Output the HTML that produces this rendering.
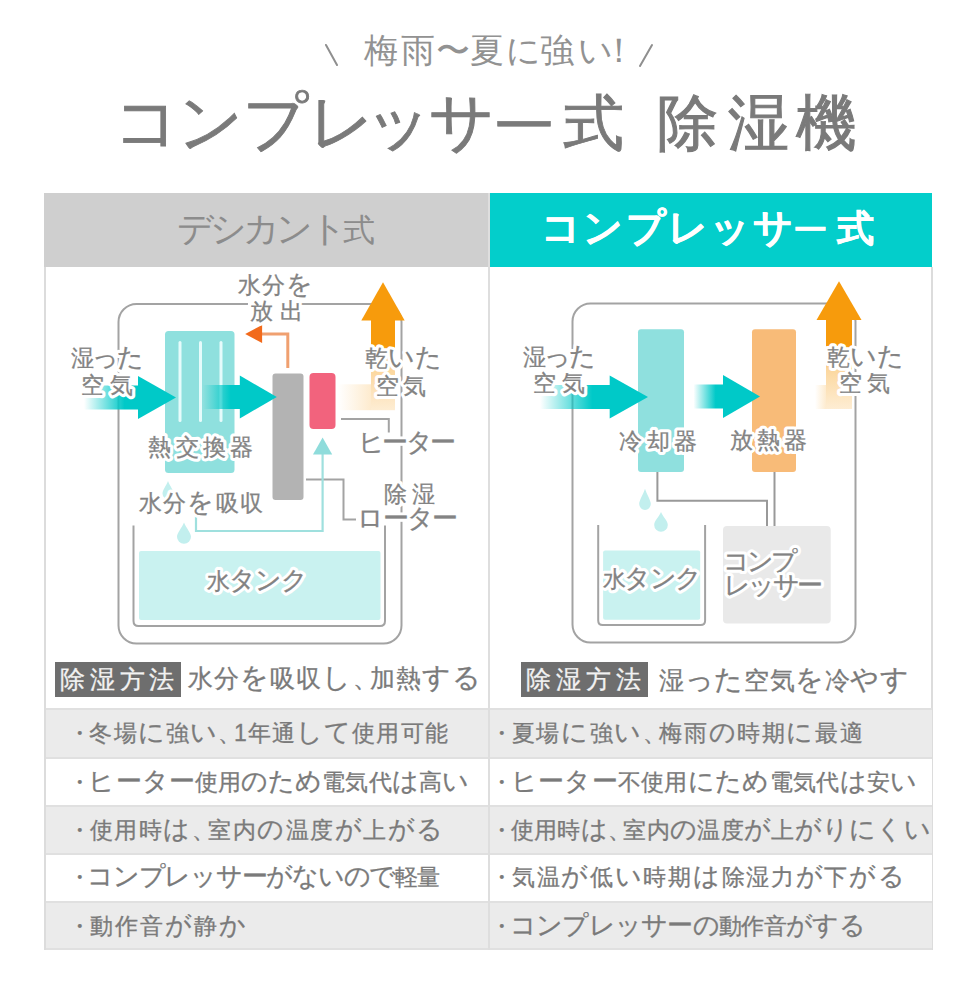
<!DOCTYPE html>
<html lang="ja"><head><meta charset="utf-8"><title>コンプレッサー式 除湿機</title>
<style>
html,body{margin:0;padding:0;background:#fff}
body{width:973px;height:992px;position:relative;overflow:hidden;font-family:"Liberation Sans",sans-serif}
.a{position:absolute;white-space:nowrap}
.bg{position:absolute}
svg{position:absolute;left:0;top:0}
svg text{font-family:"Liberation Sans",sans-serif}
</style></head><body>
<div class="a" style="left:364.4px;top:32.9px;font-size:34px;line-height:34px;color:#929292;font-weight:normal;">梅<span style="margin-left:3.0px;">雨</span><span style="margin-left:0.4px;">〜</span><span style="margin-left:0.6px;">夏</span><span style="margin-left:1.6px;">に</span><span style="margin-left:-0.7px;">強</span><span style="margin-left:4.1px;">い</span><span style="margin-left:-11.0px;">！</span></div>
<svg width="973" height="100" style="z-index:1"><path d="M326 45 L337 65 M652 45 L640 66" stroke="#8f8f8f" stroke-width="2" stroke-linecap="round" fill="none"/></svg>
<div class="a" style="left:114.4px;top:92.6px;font-size:61px;line-height:61px;color:#7a7a7a;font-weight:normal;-webkit-text-stroke:0.9px #7a7a7a;"><span style="font-size:64px;line-height:0;">コ</span><span style="margin-left:-2.5px;font-size:64px;line-height:0;">ン</span><span style="margin-left:-0.9px;font-size:64px;line-height:0;">プ</span><span style="margin-left:0.2px;font-size:64px;line-height:0;">レ</span><span style="margin-left:-9.5px;font-size:64px;line-height:0;">ッ</span><span style="margin-left:-3.1px;font-size:64px;line-height:0;">サ</span><span style="margin-left:-2.6px;font-size:64px;line-height:0;display:inline-block;transform:translateY(3.3px) scaleY(0.75);">ー</span><span style="margin-left:6.8px;">式</span></div>
<div class="a" style="left:656.8px;top:92.6px;font-size:61px;line-height:61px;color:#7a7a7a;font-weight:normal;-webkit-text-stroke:1.1px #7a7a7a;">除<span style="margin-left:10.0px;">湿</span><span style="margin-left:7.0px;">機</span></div>
<div class="bg" style="left:44px;top:193px;width:444px;height:74px;background:#cfcfcf"></div>
<div class="bg" style="left:489px;top:193px;width:443px;height:74px;background:#03cecb"></div>
<div class="bg" style="left:44px;top:267px;width:1.5px;height:683px;background:#dcdcdc"></div>
<div class="bg" style="left:931px;top:267px;width:1.5px;height:683px;background:#dcdcdc"></div>
<div class="bg" style="left:488px;top:193px;width:1.5px;height:757px;background:#dedede"></div>
<div class="bg" style="left:45.5px;top:708px;width:886px;height:49px;background:#ebebeb;border-top:2px solid #e0e0e0;box-sizing:border-box"></div>
<div class="bg" style="left:45.5px;top:757px;width:886px;height:48px;background:#ffffff;border-top:2px solid #e0e0e0;box-sizing:border-box"></div>
<div class="bg" style="left:45.5px;top:805px;width:886px;height:48px;background:#ebebeb;border-top:2px solid #e0e0e0;box-sizing:border-box"></div>
<div class="bg" style="left:45.5px;top:853px;width:886px;height:48px;background:#ffffff;border-top:2px solid #e0e0e0;box-sizing:border-box"></div>
<div class="bg" style="left:45.5px;top:901px;width:886px;height:49px;background:#ebebeb;border-top:2px solid #e0e0e0;box-sizing:border-box"></div>
<div class="bg" style="left:45.5px;top:948px;width:886px;height:2px;background:#e0e0e0"></div>
<div class="bg" style="left:488px;top:267px;width:1.5px;height:683px;background:#dedede"></div>
<div class="a" style="left:176.5px;top:214.4px;font-size:32.0px;line-height:32.0px;letter-spacing:-3.75px;color:#8c8c8c;font-weight:normal;"><span style="font-size:36.0px;line-height:0">デシカント</span>式</div>
<div class="a" style="left:540.7px;top:210.3px;font-size:37.0px;line-height:37.0px;letter-spacing:2.43px;color:#ffffff;font-weight:bold;-webkit-text-stroke:0.5px #fff;"><span style="font-size:39.0px;line-height:0">コンプレッサ</span><span style="display:inline-block;transform:translate(-4px,2.0px) scale(0.9,0.7);font-size:39.0px;line-height:0;">ー</span>式</div>
<svg width="973" height="992" viewBox="0 0 973 992">
<rect x="118.5" y="304" width="283" height="339.5" rx="18" fill="none" stroke="#a3a3a3" stroke-width="2"/>
<rect x="139" y="551" width="241.5" height="69" rx="2" fill="#c9f2f0"/>
<path d="M133.5,525.5 V621 Q133.5,626 138.5,626 H380 Q385,626 385,621 V525.5" fill="none" stroke="#a3a3a3" stroke-width="2"/>
<rect x="165" y="331" width="69.5" height="142" rx="3.5" fill="#8fe0de"/>
<rect x="178.5" y="341" width="3" height="81" rx="1.5" fill="#e6fbfb"/>
<rect x="199.0" y="341" width="3" height="81" rx="1.5" fill="#e6fbfb"/>
<rect x="219.5" y="341" width="3" height="81" rx="1.5" fill="#e6fbfb"/>
<rect x="272.5" y="373.5" width="31" height="126.5" rx="3" fill="#b3b3b3"/>
<rect x="309.5" y="373" width="26" height="56" rx="4" fill="#f2637d"/>
<path d="M306,479.5 H343.5 V519.5 H356" fill="none" stroke="#a3a3a3" stroke-width="2"/>
<path d="M341,419 H388.8 V432.5" fill="none" stroke="#a3a3a3" stroke-width="2"/>
<path d="M196,516 V531 H322.6 V452" fill="none" stroke="#9fe0de" stroke-width="2.2"/>
<path d="M322.6,437.5 L332.2,454.6 L313,454.6Z" fill="#8fdcdb"/>
<path d="M168.0,481.0 C169.7,485.5 173.5,490.2 173.5,493.5 A5.5,5.5 0 0 1 162.5,493.5 C162.5,490.2 166.3,485.5 168.0,481.0Z" fill="#c2efee"/>
<path d="M184.0,522.4 C186.1,527.8 191.0,532.6 191.0,536.8 A7.0,7.0 0 0 1 177.0,536.8 C177.0,532.6 181.9,527.8 184.0,522.4Z" fill="#c2efee"/>
<path d="M287.8,368 V334 H262" fill="none" stroke="#f0a070" stroke-width="3"/>
<path d="M245.2,334 L262.1,325 L262.1,343Z" fill="#f26a1b"/>
<linearGradient id="ta1" gradientUnits="userSpaceOnUse" x1="84" y1="0" x2="138" y2="0"><stop offset="0" stop-color="#00c9c8" stop-opacity="0"/><stop offset="0.75" stop-color="#00c9c8" stop-opacity="1"/></linearGradient><rect x="84" y="385.5" width="55" height="24" fill="url(#ta1)"/><path d="M138,376.0 L176,397.5 L138,419.0Z" fill="#00c9c8"/>
<linearGradient id="ta2" gradientUnits="userSpaceOnUse" x1="203" y1="0" x2="239.8" y2="0"><stop offset="0" stop-color="#00c9c8" stop-opacity="0"/><stop offset="0.75" stop-color="#00c9c8" stop-opacity="1"/></linearGradient><rect x="203" y="385" width="37.80000000000001" height="24" fill="url(#ta2)"/><path d="M239.8,375.5 L276.8,397 L239.8,418.5Z" fill="#00c9c8"/>
<linearGradient id="oa1v" gradientUnits="userSpaceOnUse" x1="0" y1="320.4" x2="0" y2="410.2"><stop offset="0" stop-color="#f79b0c" stop-opacity="1"/><stop offset="0.28" stop-color="#f79b0c" stop-opacity="1"/><stop offset="0.55" stop-color="#f79b0c" stop-opacity="0.4"/><stop offset="1" stop-color="#f79b0c" stop-opacity="0.18"/></linearGradient><linearGradient id="oa1h" gradientUnits="userSpaceOnUse" x1="338" y1="0" x2="371.0" y2="0"><stop offset="0" stop-color="#f79b0c" stop-opacity="0"/><stop offset="1" stop-color="#f79b0c" stop-opacity="0.2"/></linearGradient><rect x="338" y="384.3" width="33.0" height="25.899999999999977" fill="url(#oa1h)"/><rect x="371.0" y="319.9" width="24" height="90.30000000000001" fill="url(#oa1v)"/><path d="M383,282.3 L404.7,320.4 L361.3,320.4Z" fill="#f79b0c"/>
<rect x="572.5" y="303.5" width="283" height="339" rx="18" fill="none" stroke="#a3a3a3" stroke-width="2"/>
<rect x="603.1" y="550.5" width="97.1" height="69.3" rx="2" fill="#c9f2f0"/>
<path d="M598.2,525 V620.5 Q598.2,625 602.7,625 H700.6 Q705.1,625 705.1,620.5 V525" fill="none" stroke="#a3a3a3" stroke-width="2"/>
<rect x="723" y="526" width="107.7" height="97.4" rx="4" fill="#e9e9e9"/>
<rect x="638" y="329.3" width="46" height="142.7" rx="3" fill="#8fe0de"/>
<rect x="752" y="329.3" width="44" height="142.7" rx="3" fill="#f8bb78"/>
<path d="M657.4,472 V500.8 H767 V526" fill="none" stroke="#999" stroke-width="2"/>
<path d="M774.5,472 V526" fill="none" stroke="#999" stroke-width="2"/>
<path d="M645.0,488.8 C646.7,494.1 650.8,500.6 650.8,504.1 A5.8,5.8 0 0 1 639.2,504.1 C639.2,500.6 643.3,494.1 645.0,488.8Z" fill="#c2efee"/>
<path d="M661.0,512.0 C663.0,516.9 667.8,520.8 667.8,524.9 A6.8,6.8 0 0 1 654.2,524.9 C654.2,520.8 659.0,516.9 661.0,512.0Z" fill="#c2efee"/>
<linearGradient id="ta3" gradientUnits="userSpaceOnUse" x1="540" y1="0" x2="609.7" y2="0"><stop offset="0" stop-color="#00c9c8" stop-opacity="0"/><stop offset="0.75" stop-color="#00c9c8" stop-opacity="1"/></linearGradient><rect x="540" y="385" width="70.70000000000005" height="24" fill="url(#ta3)"/><path d="M609.7,375.5 L648,397 L609.7,418.5Z" fill="#00c9c8"/>
<linearGradient id="ta4" gradientUnits="userSpaceOnUse" x1="693.5" y1="0" x2="723" y2="0"><stop offset="0" stop-color="#00c9c8" stop-opacity="0"/><stop offset="0.75" stop-color="#00c9c8" stop-opacity="1"/></linearGradient><rect x="693.5" y="384.5" width="30.5" height="24" fill="url(#ta4)"/><path d="M723,375.0 L760,396.5 L723,418.0Z" fill="#00c9c8"/>
<linearGradient id="oa2v" gradientUnits="userSpaceOnUse" x1="0" y1="320" x2="0" y2="409"><stop offset="0" stop-color="#f79b0c" stop-opacity="1"/><stop offset="0.28" stop-color="#f79b0c" stop-opacity="1"/><stop offset="0.55" stop-color="#f79b0c" stop-opacity="0.4"/><stop offset="1" stop-color="#f79b0c" stop-opacity="0.18"/></linearGradient><linearGradient id="oa2h" gradientUnits="userSpaceOnUse" x1="815" y1="0" x2="826.0" y2="0"><stop offset="0" stop-color="#f79b0c" stop-opacity="0"/><stop offset="1" stop-color="#f79b0c" stop-opacity="0.2"/></linearGradient><rect x="815" y="385" width="11.0" height="24" fill="url(#oa2h)"/><rect x="826.0" y="319.5" width="26" height="89.5" fill="url(#oa2v)"/><path d="M839,281.3 L861.5,320 L816.5,320Z" fill="#f79b0c"/>
<rect x="248" y="301.5" width="52" height="5" fill="#fff"/>
<text x="238.3" y="293.3" font-size="23.0" letter-spacing="1.06" font-weight="normal" fill="#fff" stroke="#fff" stroke-width="6.5" stroke-linejoin="round">水分<tspan font-size="26.0">を</tspan></text><text x="238.3" y="293.3" font-size="23.0" letter-spacing="1.06" font-weight="normal" fill="#838383" stroke="#838383" stroke-width="0.3">水分<tspan font-size="26.0">を</tspan></text>
<text x="250.2" y="318.7" font-size="23.0" letter-spacing="6.38" font-weight="normal" fill="#fff" stroke="#fff" stroke-width="6.5" stroke-linejoin="round">放出</text><text x="250.2" y="318.7" font-size="23.0" letter-spacing="6.38" font-weight="normal" fill="#838383" stroke="#838383" stroke-width="0.3">放出</text>
<text x="70.7" y="365.7" font-size="23.0" letter-spacing="-2.06" font-weight="normal" fill="#fff" stroke="#fff" stroke-width="6.5" stroke-linejoin="round">湿<tspan font-size="26.0">った</tspan></text><text x="70.7" y="365.7" font-size="23.0" letter-spacing="-2.06" font-weight="normal" fill="#838383" stroke="#838383" stroke-width="0.3">湿<tspan font-size="26.0">った</tspan></text>
<text x="80.7" y="392.7" font-size="23.0" letter-spacing="6.40" font-weight="normal" fill="#fff" stroke="#fff" stroke-width="6.5" stroke-linejoin="round">空気</text><text x="80.7" y="392.7" font-size="23.0" letter-spacing="6.40" font-weight="normal" fill="#838383" stroke="#838383" stroke-width="0.3">空気</text>
<text x="364.9" y="366.3" font-size="23.0" letter-spacing="0.00" font-weight="normal" fill="#fff" stroke="#fff" stroke-width="6.5" stroke-linejoin="round">乾<tspan font-size="26.0">いた</tspan></text><text x="364.9" y="366.3" font-size="23.0" letter-spacing="0.00" font-weight="normal" fill="#838383" stroke="#838383" stroke-width="0.3">乾<tspan font-size="26.0">いた</tspan></text>
<text x="375.7" y="393.6" font-size="23.0" letter-spacing="4.10" font-weight="normal" fill="#fff" stroke="#fff" stroke-width="6.5" stroke-linejoin="round">空気</text><text x="375.7" y="393.6" font-size="23.0" letter-spacing="4.10" font-weight="normal" fill="#838383" stroke="#838383" stroke-width="0.3">空気</text>
<text x="148.2" y="455.2" font-size="23.0" letter-spacing="4.41" font-weight="normal" fill="#fff" stroke="#fff" stroke-width="6.5" stroke-linejoin="round">熱交換器</text><text x="148.2" y="455.2" font-size="23.0" letter-spacing="4.41" font-weight="normal" fill="#838383" stroke="#838383" stroke-width="0.3">熱交換器</text>
<text x="357.7" y="451.4" font-size="23.0" letter-spacing="-2.52" font-weight="normal" fill="#fff" stroke="#fff" stroke-width="6.5" stroke-linejoin="round"><tspan font-size="26.0">ヒーター</tspan></text><text x="357.7" y="451.4" font-size="23.0" letter-spacing="-2.52" font-weight="normal" fill="#838383" stroke="#838383" stroke-width="0.3"><tspan font-size="26.0">ヒーター</tspan></text>
<text x="138.8" y="510.8" font-size="23.0" letter-spacing="1.25" font-weight="normal" fill="#fff" stroke="#fff" stroke-width="6.5" stroke-linejoin="round">水分<tspan font-size="26.0">を</tspan>吸収</text><text x="138.8" y="510.8" font-size="23.0" letter-spacing="1.25" font-weight="normal" fill="#838383" stroke="#838383" stroke-width="0.3">水分<tspan font-size="26.0">を</tspan>吸収</text>
<text x="383.5" y="501.9" font-size="23.0" letter-spacing="5.52" font-weight="normal" fill="#fff" stroke="#fff" stroke-width="6.5" stroke-linejoin="round">除湿</text><text x="383.5" y="501.9" font-size="23.0" letter-spacing="5.52" font-weight="normal" fill="#838383" stroke="#838383" stroke-width="0.3">除湿</text>
<text x="357.1" y="526.9" font-size="23.0" letter-spacing="-1.58" font-weight="normal" fill="#fff" stroke="#fff" stroke-width="6.5" stroke-linejoin="round"><tspan font-size="26.0">ローター</tspan></text><text x="357.1" y="526.9" font-size="23.0" letter-spacing="-1.58" font-weight="normal" fill="#838383" stroke="#838383" stroke-width="0.3"><tspan font-size="26.0">ローター</tspan></text>
<text x="207.2" y="589.0" font-size="23.0" letter-spacing="-0.93" font-weight="normal" fill="#fff" stroke="#fff" stroke-width="6.5" stroke-linejoin="round">水<tspan font-size="26.0">タンク</tspan></text><text x="207.2" y="589.0" font-size="23.0" letter-spacing="-0.93" font-weight="normal" fill="#838383" stroke="#838383" stroke-width="0.3">水<tspan font-size="26.0">タンク</tspan></text>
<text x="523.4" y="364.9" font-size="23.0" letter-spacing="-2.01" font-weight="normal" fill="#fff" stroke="#fff" stroke-width="6.5" stroke-linejoin="round">湿<tspan font-size="26.0">った</tspan></text><text x="523.4" y="364.9" font-size="23.0" letter-spacing="-2.01" font-weight="normal" fill="#838383" stroke="#838383" stroke-width="0.3">湿<tspan font-size="26.0">った</tspan></text>
<text x="532.7" y="391.2" font-size="23.0" letter-spacing="6.10" font-weight="normal" fill="#fff" stroke="#fff" stroke-width="6.5" stroke-linejoin="round">空気</text><text x="532.7" y="391.2" font-size="23.0" letter-spacing="6.10" font-weight="normal" fill="#838383" stroke="#838383" stroke-width="0.3">空気</text>
<text x="827.1" y="365.3" font-size="23.0" letter-spacing="-0.25" font-weight="normal" fill="#fff" stroke="#fff" stroke-width="6.5" stroke-linejoin="round">乾<tspan font-size="26.0">いた</tspan></text><text x="827.1" y="365.3" font-size="23.0" letter-spacing="-0.25" font-weight="normal" fill="#838383" stroke="#838383" stroke-width="0.3">乾<tspan font-size="26.0">いた</tspan></text>
<text x="838.7" y="391.2" font-size="23.0" letter-spacing="5.40" font-weight="normal" fill="#fff" stroke="#fff" stroke-width="6.5" stroke-linejoin="round">空気</text><text x="838.7" y="391.2" font-size="23.0" letter-spacing="5.40" font-weight="normal" fill="#838383" stroke="#838383" stroke-width="0.3">空気</text>
<text x="619.3" y="448.5" font-size="23.0" letter-spacing="4.29" font-weight="normal" fill="#fff" stroke="#fff" stroke-width="6.5" stroke-linejoin="round">冷却器</text><text x="619.3" y="448.5" font-size="23.0" letter-spacing="4.29" font-weight="normal" fill="#838383" stroke="#838383" stroke-width="0.3">冷却器</text>
<text x="729.9" y="448.1" font-size="23.0" letter-spacing="4.13" font-weight="normal" fill="#fff" stroke="#fff" stroke-width="6.5" stroke-linejoin="round">放熱器</text><text x="729.9" y="448.1" font-size="23.0" letter-spacing="4.13" font-weight="normal" fill="#838383" stroke="#838383" stroke-width="0.3">放熱器</text>
<text x="602.9" y="587.0" font-size="23.0" letter-spacing="-1.69" font-weight="normal" fill="#fff" stroke="#fff" stroke-width="6.5" stroke-linejoin="round">水<tspan font-size="26.0">タンク</tspan></text><text x="602.9" y="587.0" font-size="23.0" letter-spacing="-1.69" font-weight="normal" fill="#838383" stroke="#838383" stroke-width="0.3">水<tspan font-size="26.0">タンク</tspan></text>
<text x="722.6" y="569.6" font-size="23.0" letter-spacing="-2.93" font-weight="normal" fill="#fff" stroke="#fff" stroke-width="6.5" stroke-linejoin="round"><tspan font-size="26.0">コンプ</tspan></text><text x="722.6" y="569.6" font-size="23.0" letter-spacing="-2.93" font-weight="normal" fill="#838383" stroke="#838383" stroke-width="0.3"><tspan font-size="26.0">コンプ</tspan></text>
<text x="724.2" y="593.9" font-size="23.0" letter-spacing="-2.77" font-weight="normal" fill="#fff" stroke="#fff" stroke-width="6.5" stroke-linejoin="round"><tspan font-size="26.0">レッサー</tspan></text><text x="724.2" y="593.9" font-size="23.0" letter-spacing="-2.77" font-weight="normal" fill="#838383" stroke="#838383" stroke-width="0.3"><tspan font-size="26.0">レッサー</tspan></text>
</svg>
<div class="bg" style="left:55px;top:662px;width:126px;height:35px;background:#6e6e6e"></div>
<div class="bg" style="left:521px;top:662px;width:127px;height:35px;background:#6e6e6e"></div>
<div class="a" style="left:60.3px;top:666.7px;font-size:25.0px;line-height:25.0px;letter-spacing:4.62px;color:#f2f2f2;font-weight:normal;-webkit-text-stroke:0.3px #f2f2f2;">除湿方法</div>
<div class="a" style="left:526.2px;top:667.2px;font-size:25.0px;line-height:25.0px;letter-spacing:4.88px;color:#f2f2f2;font-weight:normal;-webkit-text-stroke:0.3px #f2f2f2;">除湿方法</div>
<div class="a" style="left:187.8px;top:665.6px;font-size:25.0px;line-height:25.0px;letter-spacing:1.11px;color:#7a7a7a;font-weight:normal;-webkit-text-stroke:0.3px #7a7a7a;">水分<span style="font-size:28.0px;line-height:0">を</span>吸収<span style="font-size:28.0px;line-height:0">し</span><span style="margin-left:0.0px;margin-right:-8.8px;">、</span>加熱<span style="font-size:28.0px;line-height:0">する</span></div>
<div class="a" style="left:659.4px;top:667.5px;font-size:25.0px;line-height:25.0px;letter-spacing:0.54px;color:#7a7a7a;font-weight:normal;-webkit-text-stroke:0.3px #7a7a7a;">湿<span style="font-size:28.0px;line-height:0">った</span>空気<span style="font-size:28.0px;line-height:0">を</span>冷<span style="font-size:28.0px;line-height:0">やす</span></div>
<div class="a" style="left:74.5px;top:721.8px;font-size:23.0px;line-height:23.0px;letter-spacing:1.10px;color:#7a7a7a;font-weight:normal;-webkit-text-stroke:0.3px #7a7a7a;"><span style="margin-left:-6.9px;margin-right:-2.3px;">・</span>冬場<span style="font-size:26.0px;line-height:0">に</span>強<span style="font-size:26.0px;line-height:0">い</span><span style="margin-left:0.0px;margin-right:-8.0px;">、</span>1年通<span style="font-size:26.0px;line-height:0">して</span>使用可能</div>
<div class="a" style="left:496.5px;top:722.1px;font-size:23.0px;line-height:23.0px;letter-spacing:1.58px;color:#7a7a7a;font-weight:normal;-webkit-text-stroke:0.3px #7a7a7a;"><span style="margin-left:-6.9px;margin-right:-2.3px;">・</span>夏場<span style="font-size:26.0px;line-height:0">に</span>強<span style="font-size:26.0px;line-height:0">い</span><span style="margin-left:0.0px;margin-right:-8.0px;">、</span>梅雨<span style="font-size:26.0px;line-height:0">の</span>時期<span style="font-size:26.0px;line-height:0">に</span>最適</div>
<div class="a" style="left:74.5px;top:770.6px;font-size:23.0px;line-height:23.0px;letter-spacing:0.10px;color:#7a7a7a;font-weight:normal;-webkit-text-stroke:0.3px #7a7a7a;"><span style="margin-left:-6.9px;margin-right:-2.3px;">・</span><span style="font-size:26.0px;line-height:0">ヒーター</span>使用<span style="font-size:26.0px;line-height:0">のため</span>電気代<span style="font-size:26.0px;line-height:0">は</span>高<span style="font-size:26.0px;line-height:0">い</span></div>
<div class="a" style="left:496.5px;top:770.6px;font-size:23.0px;line-height:23.0px;letter-spacing:0.31px;color:#7a7a7a;font-weight:normal;-webkit-text-stroke:0.3px #7a7a7a;"><span style="margin-left:-6.9px;margin-right:-2.3px;">・</span><span style="font-size:26.0px;line-height:0">ヒーター</span>不使用<span style="font-size:26.0px;line-height:0">にため</span>電気代<span style="font-size:26.0px;line-height:0">は</span>安<span style="font-size:26.0px;line-height:0">い</span></div>
<div class="a" style="left:74.5px;top:818.7px;font-size:23.0px;line-height:23.0px;letter-spacing:1.47px;color:#7a7a7a;font-weight:normal;-webkit-text-stroke:0.3px #7a7a7a;"><span style="margin-left:-6.9px;margin-right:-2.3px;">・</span>使用時<span style="font-size:26.0px;line-height:0">は</span><span style="margin-left:0.0px;margin-right:-8.0px;">、</span>室内<span style="font-size:26.0px;line-height:0">の</span>温度<span style="font-size:26.0px;line-height:0">が</span>上<span style="font-size:26.0px;line-height:0">がる</span></div>
<div class="a" style="left:496.5px;top:818.7px;font-size:23.0px;line-height:23.0px;letter-spacing:0.32px;color:#7a7a7a;font-weight:normal;-webkit-text-stroke:0.3px #7a7a7a;"><span style="margin-left:-6.9px;margin-right:-2.3px;">・</span>使用時<span style="font-size:26.0px;line-height:0">は</span><span style="margin-left:0.0px;margin-right:-8.0px;">、</span>室内<span style="font-size:26.0px;line-height:0">の</span>温度<span style="font-size:26.0px;line-height:0">が</span>上<span style="font-size:26.0px;line-height:0">がりにくい</span></div>
<div class="a" style="left:74.5px;top:866.2px;font-size:23.0px;line-height:23.0px;letter-spacing:-1.25px;color:#7a7a7a;font-weight:normal;-webkit-text-stroke:0.3px #7a7a7a;"><span style="margin-left:-6.9px;margin-right:-2.3px;">・</span><span style="font-size:26.0px;line-height:0">コンプレッサーがないので</span>軽量</div>
<div class="a" style="left:496.5px;top:866.4px;font-size:23.0px;line-height:23.0px;letter-spacing:1.68px;color:#7a7a7a;font-weight:normal;-webkit-text-stroke:0.3px #7a7a7a;"><span style="margin-left:-6.9px;margin-right:-2.3px;">・</span>気温<span style="font-size:26.0px;line-height:0">が</span>低<span style="font-size:26.0px;line-height:0">い</span>時期<span style="font-size:26.0px;line-height:0">は</span>除湿力<span style="font-size:26.0px;line-height:0">が</span>下<span style="font-size:26.0px;line-height:0">がる</span></div>
<div class="a" style="left:74.5px;top:915.2px;font-size:23.0px;line-height:23.0px;letter-spacing:1.95px;color:#7a7a7a;font-weight:normal;-webkit-text-stroke:0.3px #7a7a7a;"><span style="margin-left:-6.9px;margin-right:-2.3px;">・</span>動作音<span style="font-size:26.0px;line-height:0">が</span>静<span style="font-size:26.0px;line-height:0">か</span></div>
<div class="a" style="left:496.5px;top:915.2px;font-size:23.0px;line-height:23.0px;letter-spacing:-0.70px;color:#7a7a7a;font-weight:normal;-webkit-text-stroke:0.3px #7a7a7a;"><span style="margin-left:-6.9px;margin-right:-2.3px;">・</span><span style="font-size:26.0px;line-height:0">コンプレッサーの</span>動作音<span style="font-size:26.0px;line-height:0">がする</span></div>
</body></html>
